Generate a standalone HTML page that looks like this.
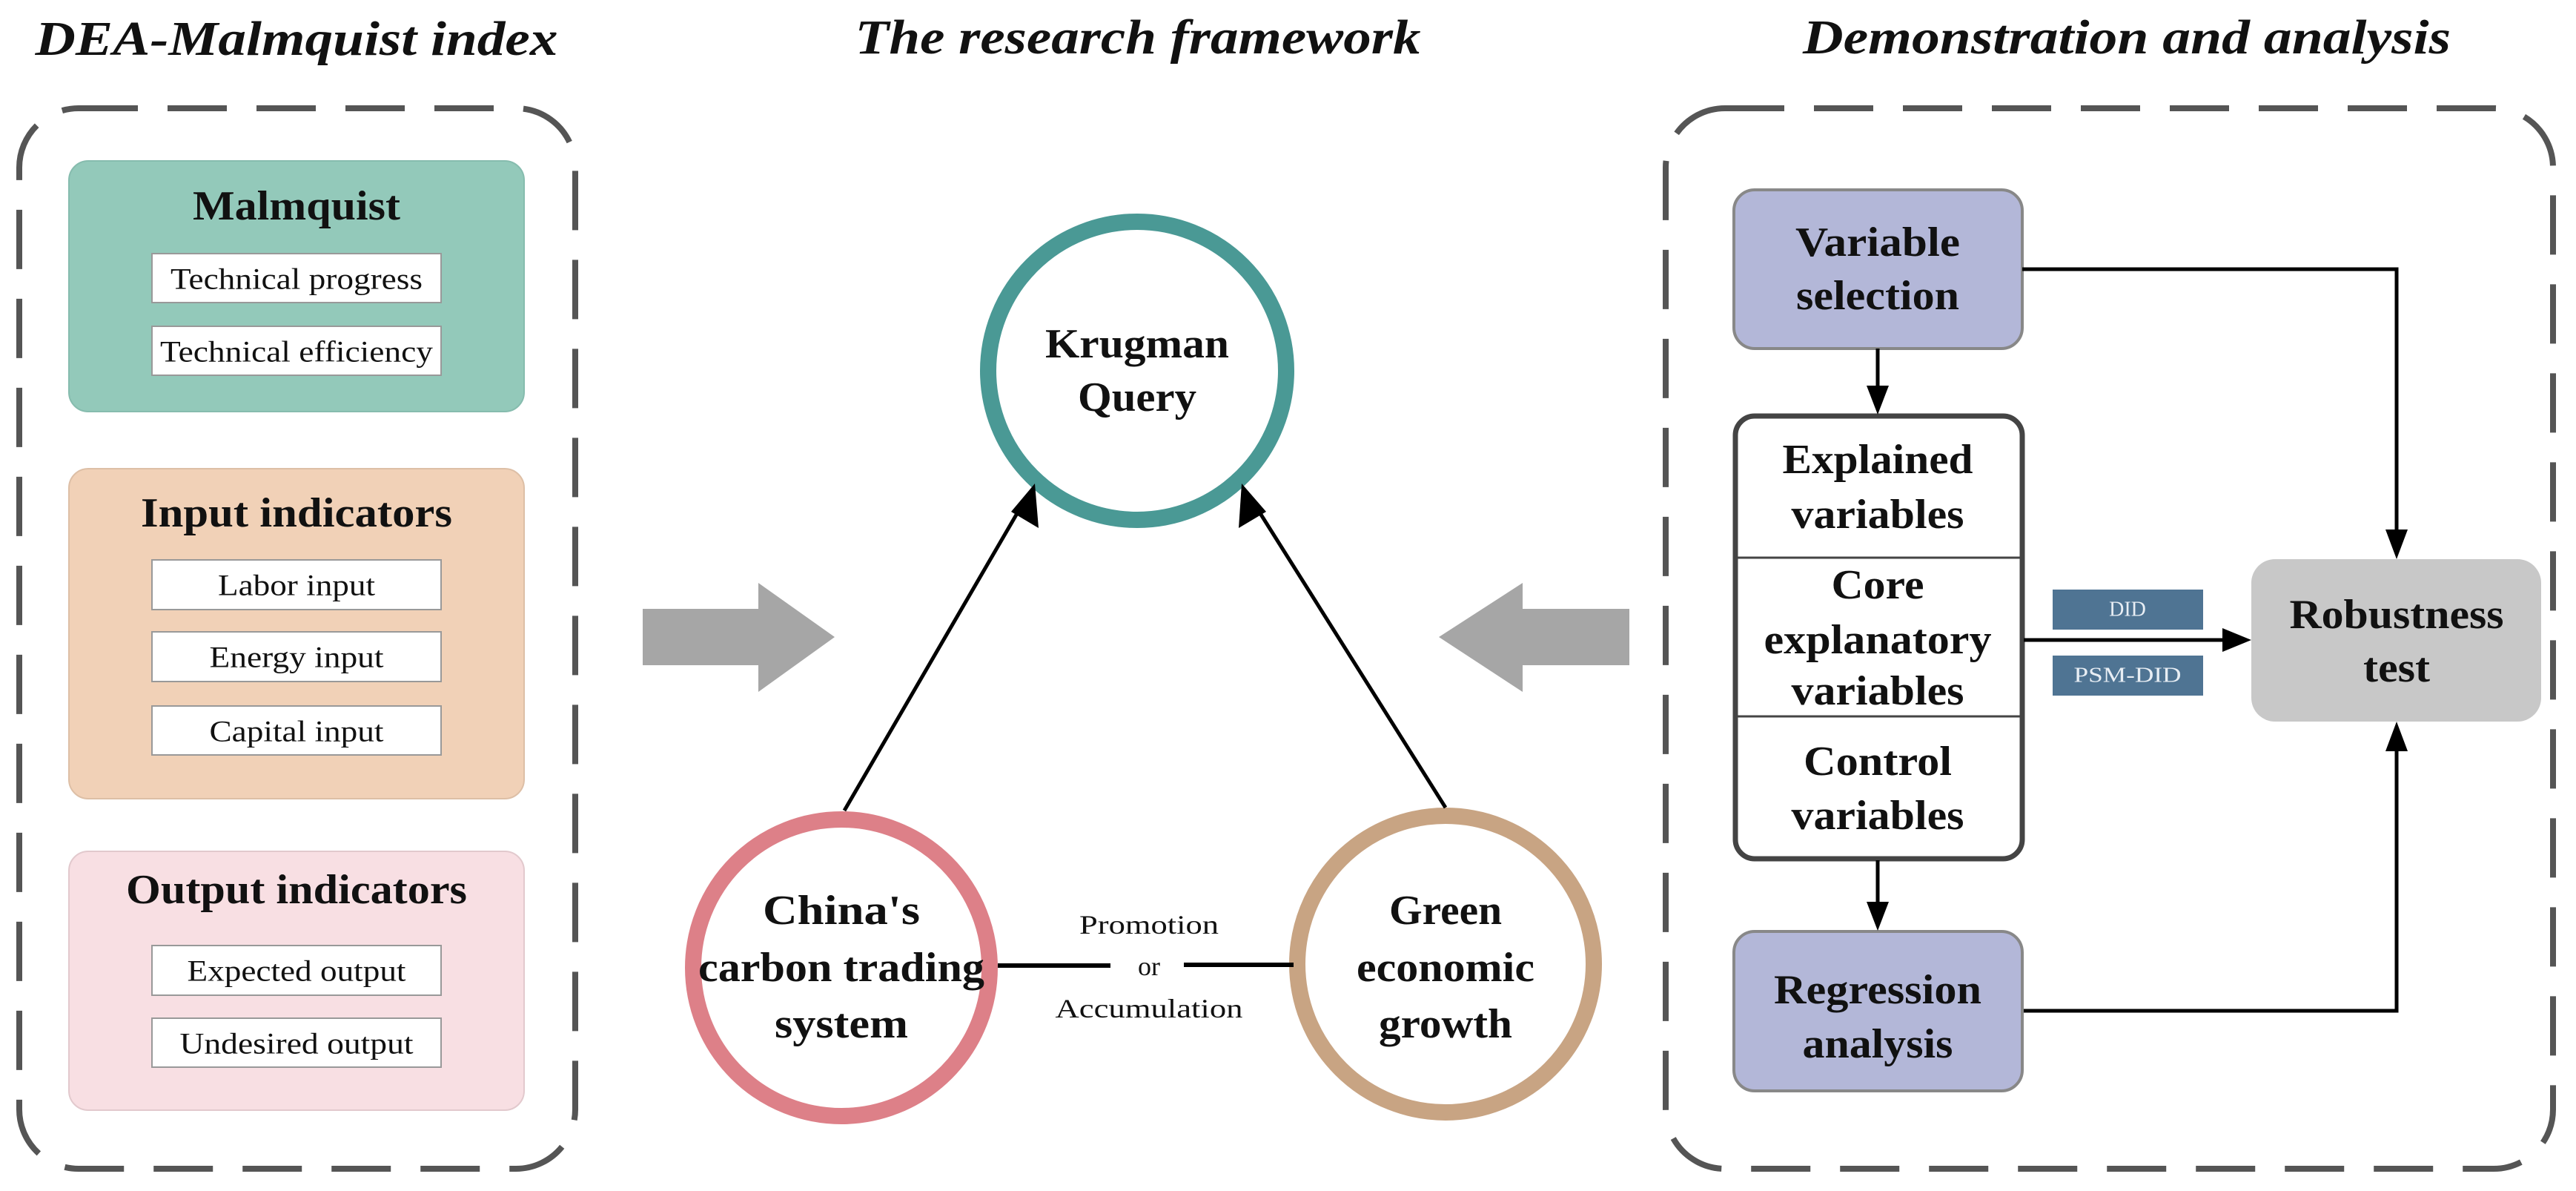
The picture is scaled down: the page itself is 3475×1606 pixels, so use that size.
<!DOCTYPE html>
<html><head><meta charset="utf-8"><style>
html,body{margin:0;padding:0;background:#fff}
svg{display:block}
text{font-family:"Liberation Serif","Times New Roman",serif}
</style></head><body>
<svg width="3475" height="1606" viewBox="0 0 3475 1606" xmlns="http://www.w3.org/2000/svg" font-family="Liberation Serif, Times New Roman, serif">
<g font-weight="bold" font-style="italic" font-size="66" fill="#111">
<text x="400" y="74" text-anchor="middle" textLength="705" lengthAdjust="spacingAndGlyphs">DEA-Malmquist index</text>
<text x="1535" y="72" text-anchor="middle" textLength="763" lengthAdjust="spacingAndGlyphs">The research framework</text>
<text x="2869" y="72" text-anchor="middle" textLength="874" lengthAdjust="spacingAndGlyphs">Demonstration and analysis</text>
</g>
<rect x="26" y="146" width="750" height="1430" rx="80" fill="none" stroke="#555" stroke-width="8" stroke-dasharray="80 40"/>
<rect x="2247" y="146" width="1197" height="1430" rx="80" fill="none" stroke="#555" stroke-width="8" stroke-dasharray="80 40"/>
<rect x="93" y="217" width="614" height="338" rx="26" fill="#93c9ba" stroke="#86bcae" stroke-width="2"/>
<rect x="93" y="632" width="614" height="445" rx="26" fill="#f1d1b7" stroke="#ddbfa6" stroke-width="2"/>
<rect x="93" y="1148" width="614" height="349" rx="26" fill="#f8dfe3" stroke="#e2c9cd" stroke-width="2"/>
<g font-weight="bold" font-size="56" fill="#111" text-anchor="middle" dominant-baseline="central">
<text x="400" y="278" textLength="280" lengthAdjust="spacingAndGlyphs">Malmquist</text>
<text x="400" y="692" textLength="420" lengthAdjust="spacingAndGlyphs">Input indicators</text>
<text x="400" y="1200" textLength="460" lengthAdjust="spacingAndGlyphs">Output indicators</text>
</g>
<g fill="#fff" stroke="#999" stroke-width="2">
<rect x="205" y="342" width="390" height="66"/>
<rect x="205" y="440" width="390" height="66"/>
<rect x="205" y="755" width="390" height="67"/>
<rect x="205" y="852" width="390" height="67"/>
<rect x="205" y="952" width="390" height="66"/>
<rect x="205" y="1275" width="390" height="67"/>
<rect x="205" y="1373" width="390" height="66"/>
</g>
<g font-size="40" fill="#111" text-anchor="middle" dominant-baseline="central">
<text x="400" y="376" textLength="340" lengthAdjust="spacingAndGlyphs">Technical progress</text>
<text x="400" y="474" textLength="368" lengthAdjust="spacingAndGlyphs">Technical efficiency</text>
<text x="400" y="789" textLength="212" lengthAdjust="spacingAndGlyphs">Labor input</text>
<text x="400" y="886" textLength="235" lengthAdjust="spacingAndGlyphs">Energy input</text>
<text x="400" y="986" textLength="235" lengthAdjust="spacingAndGlyphs">Capital input</text>
<text x="400" y="1309" textLength="295" lengthAdjust="spacingAndGlyphs">Expected output</text>
<text x="400" y="1407" textLength="315" lengthAdjust="spacingAndGlyphs">Undesired output</text>
</g>
<path d="M867,821 H1023 V786 L1126,859 L1023,933 V897 H867 Z" fill="#a6a6a6"/>
<path d="M2198,821 H2054 V786 L1941,859 L2054,933 V897 H2198 Z" fill="#a6a6a6"/>
<circle cx="1534" cy="500" r="201" fill="#fff" stroke="#4a9995" stroke-width="22"/>
<circle cx="1135" cy="1305" r="200" fill="#fff" stroke="#dd8088" stroke-width="22"/>
<circle cx="1950" cy="1300" r="200" fill="#fff" stroke="#c8a483" stroke-width="22"/>
<line x1="1139" y1="1093" x2="1385" y2="670" stroke="#000" stroke-width="5"/>
<path d="M1396,652 L1401,712 L1364,690 Z" fill="#000"/>
<line x1="1950" y1="1089" x2="1686" y2="670" stroke="#000" stroke-width="5"/>
<path d="M1675,652 L1708,690 L1671,712 Z" fill="#000"/>
<line x1="1346" y1="1302" x2="1498" y2="1302" stroke="#000" stroke-width="6"/>
<line x1="1597" y1="1301" x2="1745" y2="1301" stroke="#000" stroke-width="6"/>
<g font-size="36" fill="#111" text-anchor="middle" dominant-baseline="central">
<text x="1550" y="1247" textLength="188" lengthAdjust="spacingAndGlyphs">Promotion</text>
<text x="1550" y="1303">or</text>
<text x="1550" y="1360" textLength="253" lengthAdjust="spacingAndGlyphs">Accumulation</text>
</g>
<g font-weight="bold" font-size="56" fill="#111" text-anchor="middle" dominant-baseline="central">
<text x="1534" y="464" textLength="248" lengthAdjust="spacingAndGlyphs">Krugman</text>
<text x="1534" y="536" textLength="160" lengthAdjust="spacingAndGlyphs">Query</text>
<text x="1135" y="1228" textLength="212" lengthAdjust="spacingAndGlyphs">China's</text>
<text x="1135" y="1305" textLength="386" lengthAdjust="spacingAndGlyphs">carbon trading</text>
<text x="1135" y="1381" textLength="180" lengthAdjust="spacingAndGlyphs">system</text>
<text x="1950" y="1228" textLength="152" lengthAdjust="spacingAndGlyphs">Green</text>
<text x="1950" y="1305" textLength="240" lengthAdjust="spacingAndGlyphs">economic</text>
<text x="1950" y="1381" textLength="180" lengthAdjust="spacingAndGlyphs">growth</text>
</g>
<rect x="2339" y="256" width="389" height="214" rx="28" fill="#b3b7d8" stroke="#888" stroke-width="4"/>
<rect x="2339" y="1256" width="389" height="215" rx="28" fill="#b3b7d8" stroke="#888" stroke-width="4"/>
<rect x="3037" y="754" width="391" height="219" rx="32" fill="#c8c8c8"/>
<rect x="2341" y="561" width="387" height="597" rx="26" fill="#fff" stroke="#444" stroke-width="7"/>
<line x1="2341" y1="752" x2="2728" y2="752" stroke="#444" stroke-width="3"/>
<line x1="2341" y1="966" x2="2728" y2="966" stroke="#444" stroke-width="3"/>
<rect x="2769" y="795" width="203" height="54" fill="#4f7493"/>
<rect x="2769" y="884" width="203" height="54" fill="#4f7493"/>
<g font-size="28" fill="#e8eef4" text-anchor="middle" dominant-baseline="central">
<text x="2870" y="822">DID</text>
<text x="2870" y="911" textLength="145" lengthAdjust="spacingAndGlyphs">PSM-DID</text>
</g>
<g stroke="#000" stroke-width="5" fill="none">
<line x1="2533" y1="470" x2="2533" y2="522"/>
<line x1="2533" y1="1160" x2="2533" y2="1218"/>
<polyline points="2728,363 3233,363 3233,716"/>
<polyline points="2730,1363 3233,1363 3233,1012"/>
<line x1="2730" y1="863" x2="3000" y2="863"/>
</g>
<g fill="#000">
<path d="M2518,520 L2548,520 L2533,559 Z"/>
<path d="M2518,1216 L2548,1216 L2533,1255 Z"/>
<path d="M3218,714 L3248,714 L3233,754 Z"/>
<path d="M3218,1013 L3248,1013 L3233,973 Z"/>
<path d="M2998,847 L3037,863 L2998,879 Z"/>
</g>
<g font-weight="bold" font-size="56" fill="#111" text-anchor="middle" dominant-baseline="central">
<text x="2533" y="327" textLength="222" lengthAdjust="spacingAndGlyphs">Variable</text>
<text x="2533" y="399" textLength="220" lengthAdjust="spacingAndGlyphs">selection</text>
<text x="2533" y="620" textLength="257" lengthAdjust="spacingAndGlyphs">Explained</text>
<text x="2533" y="694" textLength="233" lengthAdjust="spacingAndGlyphs">variables</text>
<text x="2533" y="789" textLength="125" lengthAdjust="spacingAndGlyphs">Core</text>
<text x="2533" y="863" textLength="307" lengthAdjust="spacingAndGlyphs">explanatory</text>
<text x="2533" y="932" textLength="233" lengthAdjust="spacingAndGlyphs">variables</text>
<text x="2533" y="1027" textLength="200" lengthAdjust="spacingAndGlyphs">Control</text>
<text x="2533" y="1100" textLength="233" lengthAdjust="spacingAndGlyphs">variables</text>
<text x="2533" y="1335" textLength="280" lengthAdjust="spacingAndGlyphs">Regression</text>
<text x="2533" y="1408" textLength="203" lengthAdjust="spacingAndGlyphs">analysis</text>
<text x="3233" y="829" textLength="289" lengthAdjust="spacingAndGlyphs">Robustness</text>
<text x="3233" y="901" textLength="90" lengthAdjust="spacingAndGlyphs">test</text>
</g>
</svg>
</body></html>
